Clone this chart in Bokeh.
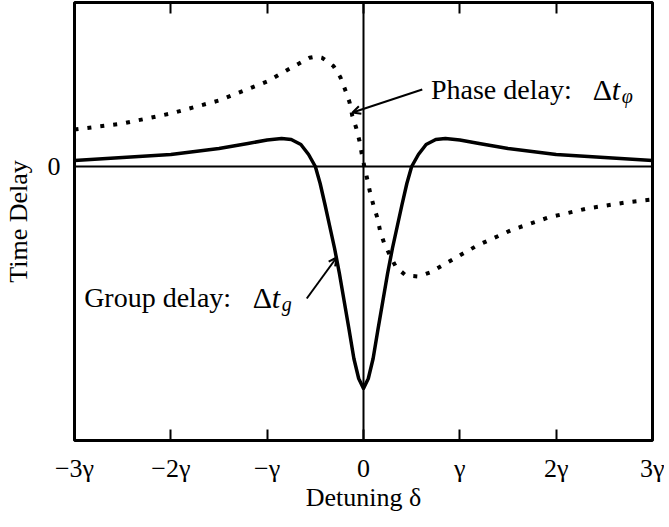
from bokeh.plotting import figure
from bokeh.models import Range1d, FixedTicker, LinearAxis, Span, Label, Arrow, OpenHead
from bokeh.embed import file_html
from bokeh.resources import INLINE

# ---------------- data ----------------
detuning_ticks = [-3, -2, -1, 0, 1, 2, 3]
detuning_tick_labels = ["\u22123\u03b3", "\u22122\u03b3", "\u2212\u03b3", "0", "\u03b3", "2\u03b3", "3\u03b3"]
delay_ticks = [0]
delay_tick_labels = ["0"]

group_x = [-3.0, -2.5, -2.0, -1.5, -1.2, -1.0, -0.85, -0.75, -0.65, -0.57, -0.5, -0.45, -0.4,
           -0.35, -0.3, -0.25, -0.2, -0.15, -0.1, -0.05, 0.0,
           0.05, 0.1, 0.15, 0.2, 0.25, 0.3, 0.35, 0.4, 0.45, 0.5, 0.57, 0.65, 0.75, 0.85,
           1.0, 1.2, 1.5, 2.0, 2.5, 3.0]
group_y = [0.06, 0.09, 0.12, 0.18, 0.23, 0.265, 0.28, 0.27, 0.22, 0.12, 0.0, -0.17, -0.38,
           -0.60, -0.82, -1.07, -1.35, -1.63, -1.92, -2.12, -2.22,
           -2.12, -1.92, -1.63, -1.35, -1.07, -0.82, -0.60, -0.38, -0.17, 0.0, 0.12, 0.22, 0.27, 0.28,
           0.265, 0.23, 0.18, 0.12, 0.09, 0.06]

phase_x = [-3.0, -2.5, -2.0, -1.5, -1.0, -0.8, -0.56, -0.49, -0.43, -0.31, -0.24, -0.19, -0.145,
           -0.117, -0.075, -0.041, -0.018, 0.01, 0.038, 0.069, 0.103, 0.145, 0.173, 0.217, 0.28,
           0.338, 0.441, 0.571, 0.699, 0.819, 1.18, 1.55, 1.92, 2.32, 2.72, 3.0]
phase_y = [0.37, 0.43, 0.53, 0.66, 0.85, 0.96, 1.087, 1.10, 1.087, 1.003, 0.893, 0.767, 0.643,
           0.51, 0.383, 0.253, 0.127, -0.007, -0.123, -0.263, -0.387, -0.517, -0.647, -0.773, -0.90,
           -1.007, -1.09, -1.10, -1.057, -0.99, -0.79, -0.63, -0.51, -0.42, -0.36, -0.33]

FONT = "Liberation Serif"

p = figure(frame_width=578, frame_height=438, output_backend="svg", toolbar_location=None,
           x_range=Range1d(-3, 3), y_range=Range1d(-2.74, 1.64),
           x_axis_location=None, y_axis_location=None,
           min_border_left=71, min_border_right=12, min_border_top=2, min_border_bottom=79)
p.grid.visible = False
p.outline_line_color = "black"
p.outline_line_width = 3
p.background_fill_color = "white"
p.border_fill_color = "white"

# bottom axis
xb = LinearAxis(ticker=FixedTicker(ticks=detuning_ticks))
xb.major_label_overrides = {t: l for t, l in zip(detuning_ticks, detuning_tick_labels)}
xb.axis_line_color = None
xb.major_tick_in = 11
xb.major_tick_out = 0
xb.major_tick_line_width = 2
xb.minor_tick_line_color = None
xb.major_label_standoff = 13
xb.major_label_text_font = FONT
xb.major_label_text_font_size = "26px"
xb.major_label_text_color = "black"
xb.axis_label = "Detuning \u03b4"
xb.axis_label_text_font = FONT
xb.axis_label_text_font_size = "26px"
xb.axis_label_text_font_style = "normal"
xb.axis_label_text_color = "black"
xb.axis_label_standoff = -3
p.add_layout(xb, "below")

# top axis (ticks only)
xt = LinearAxis(ticker=FixedTicker(ticks=detuning_ticks))
xt.axis_line_color = None
xt.major_tick_in = 11
xt.major_tick_out = 0
xt.major_tick_line_width = 2
xt.minor_tick_line_color = None
xt.major_label_text_font_size = "0px"
xt.major_label_text_color = None
xt.major_label_standoff = 0
p.add_layout(xt, "above")

# left axis
yl = LinearAxis(ticker=FixedTicker(ticks=delay_ticks))
yl.major_label_overrides = {t: l for t, l in zip(delay_ticks, delay_tick_labels)}
yl.axis_line_color = None
yl.major_tick_in = 0
yl.major_tick_out = 0
yl.minor_tick_line_color = None
yl.major_label_standoff = 14
yl.major_label_text_font = FONT
yl.major_label_text_font_size = "26px"
yl.major_label_text_color = "black"
yl.axis_label = "Time Delay"
yl.axis_label_text_font = FONT
yl.axis_label_text_font_size = "26px"
yl.axis_label_text_font_style = "normal"
yl.axis_label_text_color = "black"
yl.axis_label_standoff = 12
p.add_layout(yl, "left")

# zero lines
p.add_layout(Span(location=0, dimension="width", line_color="black", line_width=2))
p.add_layout(Span(location=0, dimension="height", line_color="black", line_width=2))

# curves
p.line(phase_x, phase_y, line_color="black", line_width=4, line_dash="4 9", line_cap="butt")
p.line(group_x, group_y, line_color="black", line_width=3.5, line_join="round")

# annotations
p.add_layout(Arrow(end=OpenHead(size=8, line_width=2, line_color="black"),
                   x_start=0.61, y_start=0.77, x_end=-0.114, y_end=0.54,
                   line_width=2, line_color="black"))
p.add_layout(Arrow(end=OpenHead(size=8, line_width=2, line_color="black"),
                   x_start=-0.589, y_start=-1.32, x_end=-0.279, y_end=-0.91,
                   line_width=2, line_color="black"))

def lab(x, y, text, size="28px", style="normal", dx=0, dy=0):
    p.add_layout(Label(x=x, y=y, x_offset=dx, y_offset=dy, text=text, text_font=FONT,
                       text_font_size=size, text_font_style=style, text_baseline="alphabetic",
                       text_align="left", text_color="black"))

def math_delay(x, y, sub):
    lab(x, y, "\u0394", size="30px")
    lab(x, y, "t", size="30px", style="italic", dx=19)
    lab(x, y, sub, size="20px", style="italic", dx=29, dy=-6)

lab(0.70, 0.77, "Phase delay:")
math_delay(2.38, 0.77, "\u03c6")

lab(-2.90, -1.31, "Group delay:")
math_delay(-1.15, -1.31, "g")

open("out.html", "w").write(file_html(p, INLINE))
